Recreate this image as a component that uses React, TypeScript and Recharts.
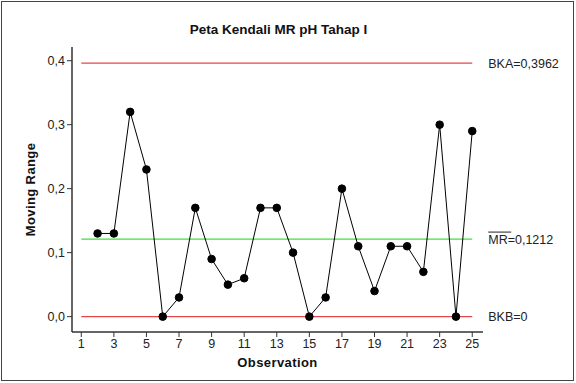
import { ComposedChart, Line, XAxis, YAxis, ReferenceLine, Label } from "recharts"

const observations = [2, 3, 4, 5, 6, 7, 8, 9, 10, 11, 12, 13, 14, 15, 16, 17, 18, 19, 20, 21, 22, 23, 24, 25]
const movingRange = [0.13, 0.13, 0.32, 0.23, 0.0, 0.03, 0.17, 0.09, 0.05, 0.06, 0.17, 0.17, 0.1, 0.0, 0.03, 0.2, 0.11, 0.04, 0.11, 0.11, 0.07, 0.3, 0.0, 0.29]
const xTicks = [1, 3, 5, 7, 9, 11, 13, 15, 17, 19, 21, 23, 25]
const yTicks = [0, 0.1, 0.2, 0.3, 0.4]
const BKA = 0.3962
const MR_BAR = 0.1212
const BKB = 0

const data = observations.map((obs, i) => ({ obs, mr: movingRange[i] }))

const FONT = "'Liberation Sans', Arial, sans-serif"
const fmt = (v: number) => v.toFixed(1).replace(".", ",")

function SideLabel(props: any) {
  const { viewBox, kind } = props
  const x = viewBox.x + viewBox.width + 16
  const y = viewBox.y
  if (kind === "mr") {
    return (
      <g>
        <line x1={x} x2={x + 23} y1={y - 7} y2={y - 7} stroke="#222" strokeWidth={1} />
        <text x={x} y={y} dy={4.5} fontSize={12.5} fontFamily={FONT} fill="#222">
          MR=0,1212
        </text>
      </g>
    )
  }
  return (
    <text x={x} y={y} dy={4.5} fontSize={12.5} fontFamily={FONT} fill="#222">
      {kind === "bka" ? "BKA=0,3962" : "BKB=0"}
    </text>
  )
}

export default function App() {
  return (
    <div style={{ position: "absolute", left: 0, top: 0, width: 576, height: 383, background: "#fff" }}>
      <div
        style={{
          position: "absolute",
          left: 1,
          top: 1,
          width: 573,
          height: 380,
          border: "1px solid #444",
          boxSizing: "border-box",
          pointerEvents: "none",
        }}
      />
      <div
        style={{
          position: "absolute",
          left: 0,
          top: 22,
          width: 557,
          textAlign: "center",
          fontFamily: FONT,
          fontWeight: "bold",
          fontSize: 13.5,
          color: "#111",
        }}
      >
        Peta Kendali MR pH Tahap I
      </div>
      <ComposedChart
        width={576}
        height={383}
        data={data}
        margin={{ top: 47, right: 93, bottom: 21, left: 32 }}
      >
        <XAxis
          dataKey="obs"
          type="number"
          domain={[0.43, 25.66]}
          ticks={xTicks}
          allowDataOverflow
          height={30}
          stroke="#333"
          strokeWidth={1.5}
          tick={{ fontSize: 12.5, fontFamily: FONT, fill: "#222" }}
          tickSize={5}
          tickLine={{ stroke: "#333", strokeWidth: 1 }}
        >
          <Label
            value="Observation"
            position="insideBottom"
            offset={-5}
            style={{ fontSize: 13, fontFamily: FONT, fontWeight: "bold", fill: "#111", letterSpacing: 0.4 }}
          />
        </XAxis>
        <XAxis xAxisId="top" orientation="top" type="number" domain={[0, 1]} height={0} tick={false} tickLine={false} stroke="#333" strokeWidth={1.5} />
        <YAxis
          domain={[-0.024, 0.4214]}
          ticks={yTicks}
          allowDataOverflow
          width={40}
          tickFormatter={fmt}
          stroke="#333"
          strokeWidth={1.5}
          tick={{ fontSize: 12.5, fontFamily: FONT, fill: "#222" }}
          tickSize={5}
          tickLine={{ stroke: "#333", strokeWidth: 1 }}
        >
          <Label
            value="Moving Range"
            angle={-90}
            position="insideLeft"
            offset={-2}
            style={{ fontSize: 13, fontFamily: FONT, fontWeight: "bold", fill: "#111", textAnchor: "middle", letterSpacing: 0.4 }}
          />
        </YAxis>
        <YAxis yAxisId="right" orientation="right" domain={[0, 1]} width={0} tick={false} tickLine={false} stroke="#333" strokeWidth={1.5} />
        <ReferenceLine
          segment={[{ x: 1, y: BKA }, { x: 25, y: BKA }]}
          stroke="#e8474a"
          strokeWidth={1.2}
          label={<SideLabel kind="bka" />}
        />
        <ReferenceLine
          segment={[{ x: 1, y: MR_BAR }, { x: 25, y: MR_BAR }]}
          stroke="#3ee03e"
          strokeWidth={1.2}
          label={<SideLabel kind="mr" />}
        />
        <ReferenceLine
          segment={[{ x: 1, y: BKB }, { x: 25, y: BKB }]}
          stroke="#e8474a"
          strokeWidth={1.2}
          label={<SideLabel kind="bkb" />}
        />
        <Line
          dataKey="mr"
          stroke="#000"
          strokeWidth={1}
          dot={{ r: 3.8, fill: "#000", stroke: "#000", strokeWidth: 1 }}
          isAnimationActive={false}
        />
      </ComposedChart>
    </div>
  )
}
